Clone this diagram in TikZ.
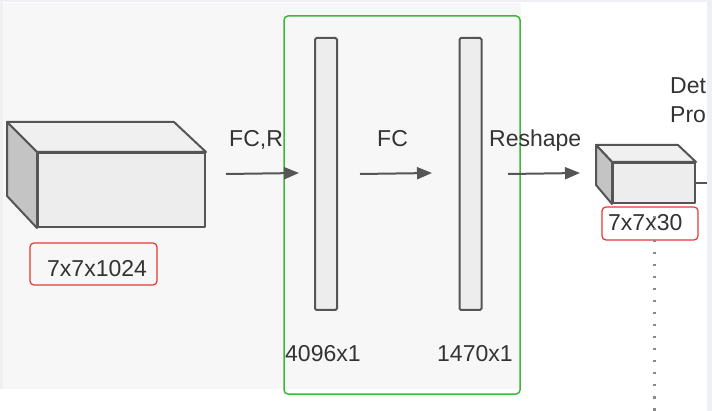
\documentclass[tikz,border=0pt]{standalone}
\usepackage{fontspec}
\setmainfont{Liberation Sans}
\usetikzlibrary{arrows.meta}
\definecolor{bggray}{HTML}{F7F7F7}
\definecolor{edgegray}{HTML}{EEF0F3}
\definecolor{lineg}{HTML}{555555}
\definecolor{txtg}{HTML}{333333}
\definecolor{grn}{HTML}{3CB83C}
\definecolor{redl}{HTML}{E53935}
\definecolor{facefront}{HTML}{EDEDED}
\definecolor{facetop}{HTML}{F0F0F0}
\definecolor{faceside}{HTML}{C4C4C4}
\definecolor{dotg}{HTML}{8A8A8A}
\begin{document}
\begin{tikzpicture}[x=1pt,y=-1pt,
  txt/.style={font=\fontsize{23}{27}\selectfont, text=txtg, inner sep=0pt, anchor=base west},
  cubeedge/.style={draw=lineg, line width=2pt, line join=round},
  barbox/.style={draw=lineg, fill=facefront, line width=2pt, rounded corners=1.5pt, inner sep=0pt},
  redbox/.style={draw=redl, line width=1.2pt, rounded corners=4pt, inner sep=0pt},
  arr/.style={draw=lineg, line width=2pt, -{Triangle[length=15pt,width=12pt]}},
]
\useasboundingbox (0,0) rectangle (712,411);
% background
\fill[white] (0,0) rectangle (712,411);
\fill[bggray] (3,3) rectangle (521,389);
\fill[edgegray] (0,0) rectangle (712,2.5);
\fill[edgegray] (0,0) rectangle (3,389);

% big cube
\node[cubeedge, fill=facefront, minimum width=167pt, minimum height=74pt, inner sep=0pt] (bigfront) at (121.5,190) {};
\filldraw[cubeedge, fill=facetop] (bigfront.north west) -- ++(-30,-30) -- ++(167,0) -- (bigfront.north east) -- cycle;
\filldraw[cubeedge, fill=faceside] (bigfront.north west) -- ++(-30,-30) -- ++(0,74) -- (bigfront.south west) -- cycle;

% label 1
\node[redbox, minimum width=127pt, minimum height=42pt] (lab1box) at (93.5,264) {};
\node[txt] (lab1) at (47,277) {7x7x1024};

% green group
\node[draw=grn, line width=1.5pt, rounded corners=4pt, minimum width=236pt, minimum height=378pt, inner sep=0pt] (grp) at (402,205) {};

% bars
\node[barbox, minimum width=22pt, minimum height=272pt] (bar1) at (326,174) {};
\node[barbox, minimum width=22pt, minimum height=272pt] (bar2) at (470.5,174) {};
\node[txt] (bar1lab) at (285,362) {4096x1};
\node[txt] (bar2lab) at (437,362) {1470x1};

% arrows
\coordinate (a1s) at (226,174);
\coordinate (a1e) at (299,173);
\coordinate (a2s) at (360,174);
\coordinate (a2e) at (432,173);
\coordinate (a3s) at (508,174);
\coordinate (a3e) at (580,173);
\draw[arr] (a1s) -- (a1e);
\draw[arr] (a2s) -- (a2e);
\draw[arr] (a3s) -- (a3e);
\node[txt] (l1) at (229,147) {FC,R};
\node[txt] (l2) at (377,147) {FC};
\node[txt] (l3) at (489,147) {Reshape};

% small cube
\node[cubeedge, fill=facefront, minimum width=82pt, minimum height=40pt, inner sep=0pt] (smallfront) at (654,183) {};
\filldraw[cubeedge, fill=facetop] (smallfront.north west) -- ++(-16,-17) -- ++(82,0) -- (smallfront.north east) -- cycle;
\filldraw[cubeedge, fill=faceside] (smallfront.north west) -- ++(-16,-17) -- ++(0,40) -- (smallfront.south west) -- cycle;
\coordinate (rout) at (708,183);
\draw[lineg, line width=1.5pt] (smallfront.east) -- (rout);

% label 2
\node[redbox, minimum width=96pt, minimum height=33pt] (lab2box) at (650,223.5) {};
\node[txt] (lab2) at (608,231) {7x7x30};

% dotted line
\coordinate (dotend) at (654,411);
\draw[dotg, line width=3pt, dash pattern=on 2.5pt off 9.5pt] (smallfront.south) ++(0,12) -- (dotend);

% right text
\node[txt] (det) at (670,94) {Det};
\node[txt] (pro) at (670,123) {Pro};

% right strip
\fill[edgegray] (707,0) rectangle (712,411);
\end{tikzpicture}
\end{document}
